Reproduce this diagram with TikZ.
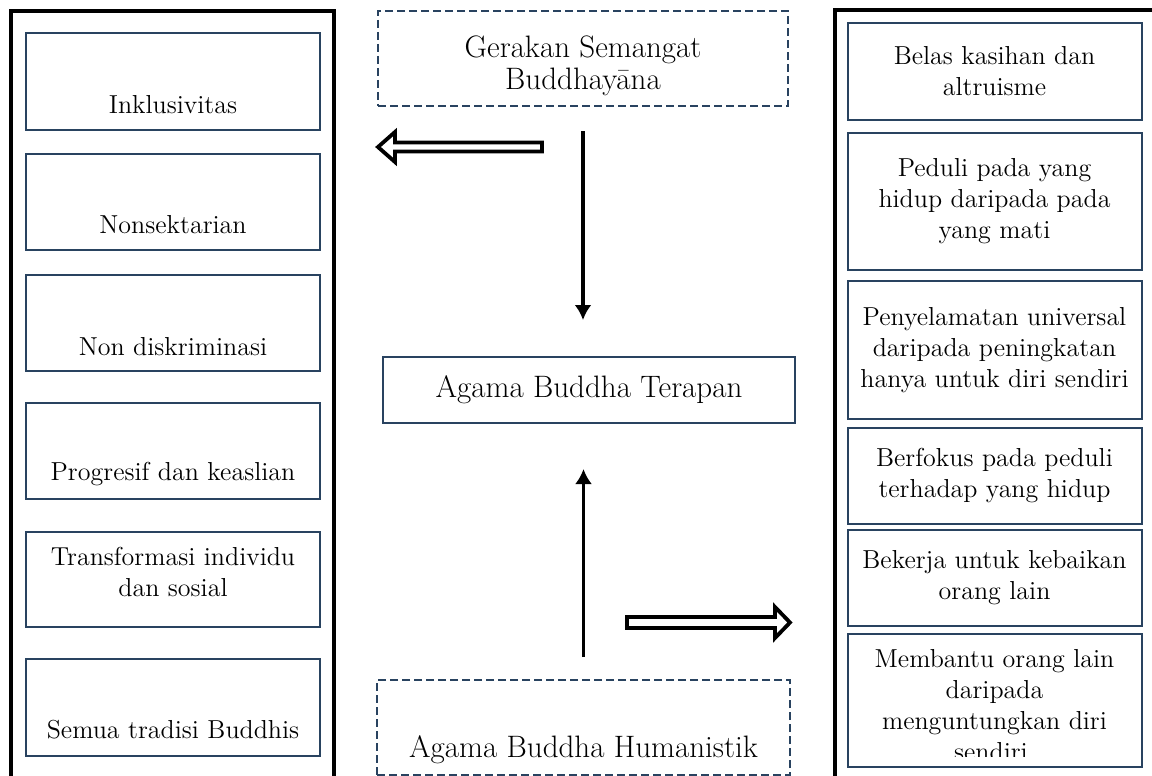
\documentclass[tikz,border=0pt]{standalone}
\usetikzlibrary{arrows.meta,calc}
\definecolor{boxblue}{HTML}{294360}
\tikzset{
    frame/.style={draw=black, line width=2pt},
    ibox/.style={draw=boxblue, line width=1pt, inner sep=0pt, minimum width=147pt, minimum height=#1},
    dbox/.style={draw=boxblue, line width=1pt, dash pattern=on 4pt off 2pt, inner sep=0pt, minimum width=205pt, minimum height=#1},
    txt/.style={font=\fontsize{13}{15.5}\selectfont, align=center, inner sep=0pt},
    bigtxt/.style={font=\fontsize{15.5}{16}\selectfont, align=center, inner sep=0pt},
    flow/.style={-{Latex[length=7.5pt,width=8.5pt]}, line width=1.8pt},
    hollow/.style={draw=black, line width=1.9pt, fill=white, line join=miter},
}

\begin{document}
\begin{tikzpicture}[x=0.5pt,y=-0.5pt]
    \clip (0,0) rectangle (1152,776);
    % outer frames
    \draw[frame] (11,10.5) rectangle (334,800);
    \draw[frame] (834.5,10) rectangle (1160,800);

    % left column
    \node[ibox=48.5pt] (l1) at (173,81.5) {};
    \node[ibox=48pt] (l2) at (173,202) {};
    \node[ibox=48pt] (l3) at (173,323) {};
    \node[ibox=48pt] (l4) at (173,451) {};
    \node[ibox=47.5pt] (l5) at (173,579.5) {};
    \node[ibox=48.5pt] (l6) at (173,707.5) {};
    \node[txt] (l1t) at (173,105) {Inklusivitas};
    \node[txt] (l2t) at (173,225) {Nonsektarian};
    \node[txt] (l3t) at (173,347) {Non diskriminasi};
    \node[txt] (l4t) at (173,474) {Progresif dan keaslian};
    \node[txt] (l5t) at (173,572) {Transformasi individu\\dan sosial};
    \node[txt] (l6t) at (173,730) {Semua tradisi Buddhis};

    % right column
    \node[ibox=48.5pt, txt] (r1) at (994.5,71.5) {Belas kasihan dan\\altruisme};
    \node[ibox=68.5pt, txt] (r2) at (994.5,201.5) {Peduli pada yang\\hidup daripada pada\\yang mati};
    \node[ibox=69pt, txt] (r3) at (994.5,350) {Penyelamatan universal\\daripada peningkatan\\hanya untuk diri sendiri};
    \node[ibox=48pt, txt] (r4) at (994.5,476) {Berfokus pada peduli\\terhadap yang hidup};
    \node[ibox=48pt, txt] (r5) at (994.5,578) {Bekerja untuk kebaikan\\orang lain};
    \node[ibox=66.5pt] (r6) at (994.5,700.5) {};
    \begin{scope}
        \clip (849,636) rectangle (1140,756);
        \node[txt] (r6t) at (994.5,705) {Membantu orang lain\\daripada\\menguntungkan diri\\sendiri.};
    \end{scope}

    % middle
    \node[dbox=47.5pt] (gsb) at (583,58.5) {};
    \node[bigtxt] (gsbt) at (583,66) {Gerakan Semangat\\Buddhay\=ana};
    \node[ibox=33pt, minimum width=206pt, bigtxt] (abt) at (589,390) {Agama Buddha Terapan};
    \node[dbox=47.5pt, minimum width=206.5pt] (abh) at (583.5,727.5) {};
    \node[bigtxt] (abht) at (583.5,750) {Agama Buddha Humanistik};

    \draw[flow, shorten <=12pt, shorten >=18pt] (gsb.south) -- (gsb.south |- abt.north);
    \draw[flow, shorten <=11pt, shorten >=22.5pt] (abh.north) -- (abh.north |- abt.south);

    % hollow arrows
    \coordinate (lwtail) at (542,147);
    \coordinate (lwtip) at (378,147);
    \draw[hollow] ($(lwtail)+(0,-4.5)$) -- ($(lwtip)+(17,-4.5)$) -- ($(lwtip)+(17,-15)$) -- (lwtip)
        -- ($(lwtip)+(17,15)$) -- ($(lwtip)+(17,4.5)$) -- ($(lwtail)+(0,4.5)$) -- cycle;
    \coordinate (rwtail) at (627,622.5);
    \coordinate (rwtip) at (790,622.5);
    \draw[hollow] ($(rwtail)+(0,-5.5)$) -- ($(rwtip)+(-15,-5.5)$) -- ($(rwtip)+(-15,-15.5)$) -- (rwtip)
        -- ($(rwtip)+(-15,15.5)$) -- ($(rwtip)+(-15,5.5)$) -- ($(rwtail)+(0,5.5)$) -- cycle;
\end{tikzpicture}
\end{document}
